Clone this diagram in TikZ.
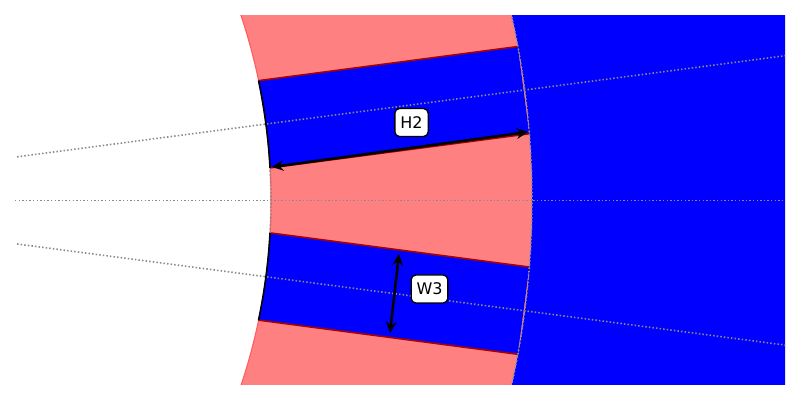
\documentclass[tikz,border=0pt]{standalone}
\usepackage{fontspec}
\setmainfont{DejaVu Sans}
\usetikzlibrary{arrows.meta}
\definecolor{toothpink}{HTML}{FF8080}
\definecolor{toothline}{HTML}{FF5C5C}
\definecolor{sloped}{HTML}{A80000}
\definecolor{guidegray}{HTML}{8A8A8A}
\tikzset{
  tooth/.style={fill=toothpink},
  toothedge/.style={draw=toothline,line width=.8pt},
  blueiron/.style={fill=blue,draw=none},
  slotedge/.style={draw=sloped,line width=1.2pt},
  opening/.style={draw=black,line width=1.2pt},
  guide/.style={draw=guidegray,line width=1.2pt,dash pattern=on 1.1pt off 1.6pt},
  dim/.style={draw=black,line width=1.9pt,{Stealth[length=8.5pt,width=8pt]}-{Stealth[length=8.5pt,width=8pt]}},
  tag/.style={draw=black,fill=white,rounded corners=3.5pt,line width=1pt,inner sep=0pt,
    minimum height=21pt,font=\fontsize{12}{14}\selectfont}
}
\begin{document}
\begin{tikzpicture}[x=.75pt,y=.75pt]
\useasboundingbox[fill=white] (0,0) rectangle (800,400);
\coordinate (C) at (-314,199.6);
\begin{scope}
\clip (15,15) rectangle (785,384.4);
% yoke
\fill[blueiron] ([shift={(C)}]-20:846) arc[start angle=-20,end angle=20,radius=846] -- (900,500) -- (900,-100) -- cycle;
% teeth annulus
\path[tooth] ([shift={(C)}]-20:585) arc[start angle=-20,end angle=20,radius=585]
  -- ([shift={(C)}]20:846) arc[start angle=20,end angle=-20,radius=846] -- cycle;
\draw[toothedge] ([shift={(C)}]-20:585) arc[start angle=-20,end angle=20,radius=585];
% slots
\foreach \a/\o in {7.5/a,-7.5/b}{
  \begin{scope}[shift={(C)},rotate=\a]
    \coordinate (\o1) at (583.3,44);
    \coordinate (\o2) at (844.9,44);
    \coordinate (\o3) at (844.9,-44);
    \coordinate (\o4) at (583.3,-44);
    \fill[blueiron] (\o1) -- (\o2) -- (\o3) -- (\o4)
      arc[start angle=-4.32,end angle=4.32,radius=585] -- cycle;
    \draw[slotedge] (\o1) -- (\o2);
    \draw[slotedge] (\o4) -- (\o3);
  \end{scope}
}
% guide lines
\coordinate (g1s) at ([shift={(C)}]7.5:334);
\coordinate (g1e) at ([shift={(C)}]7.5:1200);
\coordinate (g2s) at ([shift={(C)}]-7.5:334);
\coordinate (g2e) at ([shift={(C)}]-7.5:1200);
\coordinate (g3s) at (15,199.5);
\coordinate (g3e) at (785,199.5);
\draw[guide] (g1s) -- (g1e);
\draw[guide] (g2s) -- (g2e);
\draw[guide] (g3s) -- (g3e);
\draw[guide] ([shift={(C)}]-3.2:585) arc[start angle=-3.2,end angle=3.2,radius=585];
\draw[guide] ([shift={(C)}]-20:846) arc[start angle=-20,end angle=20,radius=846];
% slot openings
\foreach \a in {7.5,-7.5}{
  \begin{scope}[shift={(C)},rotate=\a]
    \draw[opening] (-4.32:585) arc[start angle=-4.32,end angle=4.32,radius=585];
  \end{scope}
}
\end{scope}
% dimensions
\coordinate (h2a) at (272,233);
\coordinate (h2b) at (528,268);
\coordinate (w3a) at (399,146);
\coordinate (w3b) at (390,67);
\draw[dim] (h2a) -- (h2b);
\draw[dim] (w3a) -- (w3b);
\node[tag,minimum width=25pt] (H2) at (411.5,277.5) {H2};
\node[tag,minimum width=27.5pt] (W3) at (429.5,111) {W3};
\end{tikzpicture}
\end{document}
